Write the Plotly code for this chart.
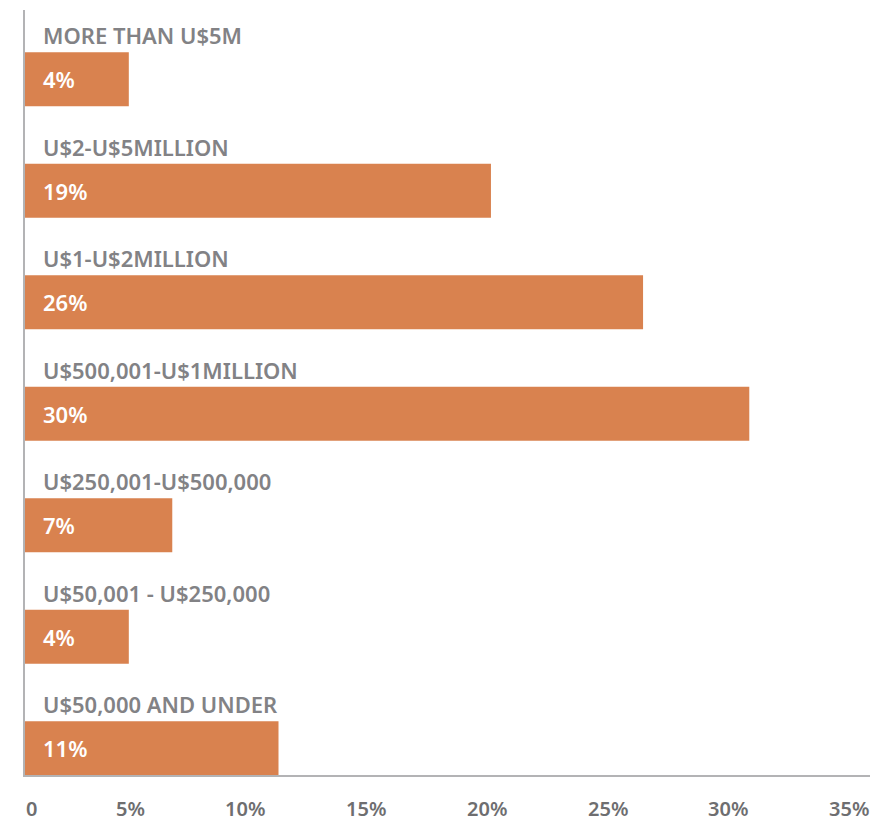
import plotly.graph_objects as go

categories = [
    "U$50,000 AND UNDER",
    "U$50,001 - U$250,000",
    "U$250,001-U$500,000",
    "U$500,001-U$1MILLION",
    "U$1-U$2MILLION",
    "U$2-U$5MILLION",
    "MORE THAN U$5M",
]
bar_values = [10.5, 4.3, 6.1, 30.0, 25.6, 19.3, 4.3]
value_labels = ["11%", "4%", "7%", "30%", "26%", "19%", "4%"]
tick_vals = [0, 5, 10, 15, 20, 25, 30, 35]
tick_text = ["0", "5%", "10%", "15%", "20%", "25%", "30%", "35%"]

BAR = "#D9824F"
CAT_COLOR = "#828285"
TICK_COLOR = "#6e6e70"
FONT = "Noto Sans"

ypos = list(range(len(categories)))

fig = go.Figure(go.Bar(
    x=bar_values, y=ypos, orientation="h",
    marker=dict(color=BAR, line=dict(width=0)),
    width=0.484, hoverinfo="skip",
))

annotations = []
for i, (cat, lab) in enumerate(zip(categories, value_labels)):
    annotations.append(dict(
        x=0, y=i, xref="x", yref="y", text=cat, showarrow=False,
        xanchor="left", yanchor="middle", xshift=16, yshift=44,
        font=dict(family=FONT, size=22, color=CAT_COLOR, weight=600),
    ))
    annotations.append(dict(
        x=0, y=i, xref="x", yref="y", text=lab, showarrow=False,
        xanchor="left", yanchor="middle", xshift=16, yshift=0,
        font=dict(family=FONT, size=22, color="white", weight=600),
    ))
for v, t in zip(tick_vals, tick_text):
    annotations.append(dict(
        x=v, y=0, xref="x", yref="paper", text=t, showarrow=False,
        xanchor="left" if v == 0 else "right", yanchor="middle", yshift=-33,
        borderpad=0,
        font=dict(family=FONT, size=20, color=TICK_COLOR, weight=600),
    ))

fig.update_layout(
    width=880, height=814,
    margin=dict(l=17, r=18, t=2, b=47),
    paper_bgcolor="white", plot_bgcolor="white",
    showlegend=False,
    annotations=annotations,
    xaxis=dict(range=[0, 35], showgrid=False, zeroline=False, showticklabels=False,
               ticks="", showline=True, linecolor="#b3b3b5", linewidth=1.5, fixedrange=True),
    yaxis=dict(range=[-0.24, 6.62], showgrid=False, zeroline=False, showticklabels=False,
               ticks="", showline=True, linecolor="#b3b3b5", linewidth=1.5, fixedrange=True),
)

fig.write_html("out.html")
